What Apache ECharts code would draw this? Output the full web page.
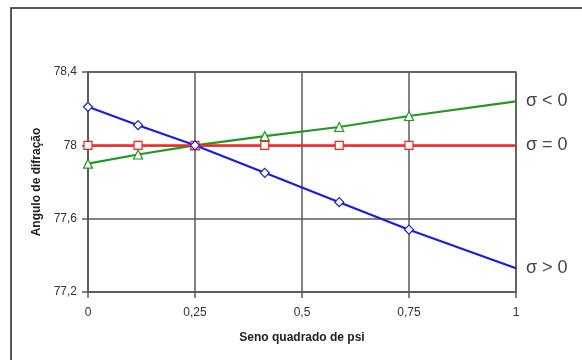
<!DOCTYPE html>
<html><head><meta charset="utf-8">
<script src="https://cdn.jsdelivr.net/npm/echarts@6/dist/echarts.min.js"></script>
<style>html,body{margin:0;padding:0;background:#fff}#c{width:582px;height:360px}</style>
</head><body><div id="c"></div>
<script>
var xValues = [0, 0.117, 0.25, 0.413, 0.587, 0.75, 1];
var seriesNames = ['σ > 0', 'σ = 0', 'σ < 0'];
var blueValues = [78.21, 78.11, 78.0, 77.85, 77.69, 77.54, 77.33];
var redValues = [78.0, 78.0, 78.0, 78.0, 78.0, 78.0, 78.0];
var greenValues = [77.9, 77.95, 78.0, 78.05, 78.1, 78.16, 78.24];
var yTicks = [77.2, 77.6, 78.0, 78.4];
var xTicks = [0, 0.25, 0.5, 0.75, 1];

function mk(vals){
  return vals.map(function(v,i){
    var d = {value:[xValues[i], v]};
    if (i === vals.length-1) d.symbol = 'none';
    return d;
  });
}
function comma(v){ return String(+v.toFixed(2)).replace('.', ','); }

var chart = echarts.init(document.getElementById('c'));
function ser(name, vals, color, symbol, size){
  return {
    name: name, type: 'line', data: mk(vals), symbol: symbol, symbolSize: size,
    lineStyle: {color: color, width: 2.2}, itemStyle: {color: '#fff', borderColor: color, borderWidth: 1.2},
    emphasis: {disabled: true}, z: 3,
    endLabel: {show: true, formatter: name, color: '#444', fontSize: 18, fontFamily: 'Liberation Sans', distance: 10}
  };
}
var gridCol = '#5a5a5a';
chart.setOption({
  animation: false,
  graphic: [{type: 'rect', shape: {x: 11, y: 8, width: 600, height: 400}, style: {fill: 'none', stroke: '#222', lineWidth: 1.5}, z: 0}],
  grid: {left: 88, right: 66, top: 72, bottom: 68, show: true, borderColor: gridCol, borderWidth: 1.5},
  xAxis: {
    type: 'value', min: 0, max: 1, interval: 0.25,
    name: 'Seno quadrado de psi', nameLocation: 'middle', nameGap: 40,
    nameTextStyle: {fontWeight: 'bold', fontSize: 12, color: '#222', fontFamily: 'Liberation Sans'},
    axisLine: {show: true, lineStyle: {color: gridCol, width: 1.5}},
    axisTick: {show: true, length: 6, lineStyle: {color: gridCol, width: 1.5}},
    splitLine: {show: true, lineStyle: {color: gridCol, width: 1.5}},
    axisLabel: {formatter: comma, color: '#333', fontSize: 12, fontFamily: 'Liberation Sans', margin: 15}
  },
  yAxis: {
    type: 'value', min: 77.2, max: 78.4, interval: 0.4,
    name: 'Angulo de difração', nameLocation: 'middle', nameGap: 42, nameRotate: 90,
    nameTextStyle: {fontWeight: 'bold', fontSize: 12, color: '#222', fontFamily: 'Liberation Sans'},
    axisLine: {show: true, lineStyle: {color: gridCol, width: 1.5}},
    axisTick: {show: true, length: 6, lineStyle: {color: gridCol, width: 1.5}},
    splitLine: {show: true, lineStyle: {color: gridCol, width: 1.5}},
    axisLabel: {formatter: comma, color: '#333', fontSize: 12, fontFamily: 'Liberation Sans', margin: 11}
  },
  series: [
    ser(seriesNames[2], greenValues, '#1f9a1f', 'triangle', 9),
    ser(seriesNames[1], redValues, '#ff2222', 'rect', 8),
    ser(seriesNames[0], blueValues, '#1a1aee', 'diamond', 9)
  ]
});
</script></body></html>
